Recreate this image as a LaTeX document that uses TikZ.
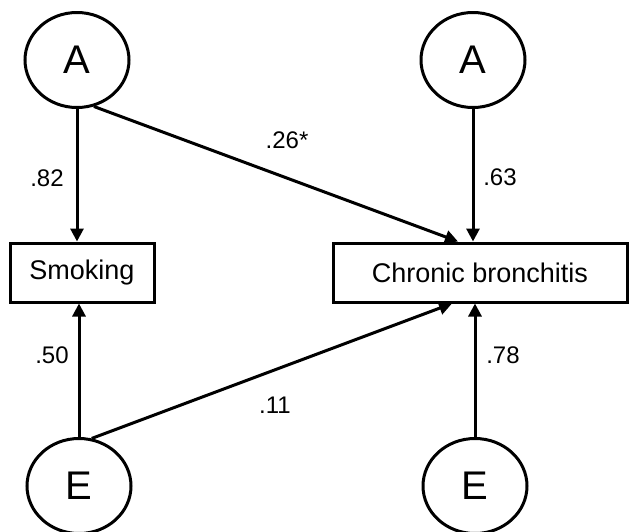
\documentclass[tikz,border=0pt]{standalone}
\usepackage{fontspec}
\setmainfont{Liberation Sans}
\usetikzlibrary{calc, positioning, arrows.meta, shapes.geometric}

\begin{document}
\begin{tikzpicture}[x=1pt, y=-1pt, line width=3pt,
  >={Triangle[length=13pt,width=13pt]},
  lat/.style={draw, ellipse, minimum width=104pt, minimum height=95pt, inner sep=0pt, font=\fontsize{40}{40}\selectfont},
  obs/.style={draw, rectangle, minimum height=59pt, inner sep=0pt, font=\fontsize{27}{27}\selectfont},
  coef/.style={inner sep=0pt, font=\fontsize{24}{24}\selectfont}]
  \useasboundingbox (0,0) rectangle (630,531);

  \node[lat] (a1) at (77,60) {A};
  \node[lat] (a2) at (473,60) {A};
  \node[lat] (e1) at (79,486) {E};
  \node[lat] (e2) at (475,486) {E};

  \node[obs, minimum width=144pt] (smoke) at (82,272.5) {Smoking};
  \node[obs, minimum width=294pt] (bronch) at (480,272.5) {Chronic bronchitis};

  \draw[->] (a1) -- (a1 |- smoke.north);
  \draw[->] (a2) -- (a2 |- bronch.north);
  \draw[->] (a1.-70) -- ([xshift=-22pt]bronch.north);
  \draw[->] (e1) -- (e1 |- smoke.south);
  \draw[->] (e2) -- (e2 |- bronch.south);
  \draw[->] (e1.75) -- ([xshift=-28pt]bronch.south);

  \node[coef] (c1) at (47,178) {.82};
  \node[coef] (c2) at (287,140) {.26*};
  \node[coef] (c3) at (500,177) {.63};
  \node[coef] (c4) at (52,355) {.50};
  \node[coef] (c5) at (275,405) {.11};
  \node[coef] (c6) at (503,355) {.78};
\end{tikzpicture}
\end{document}
